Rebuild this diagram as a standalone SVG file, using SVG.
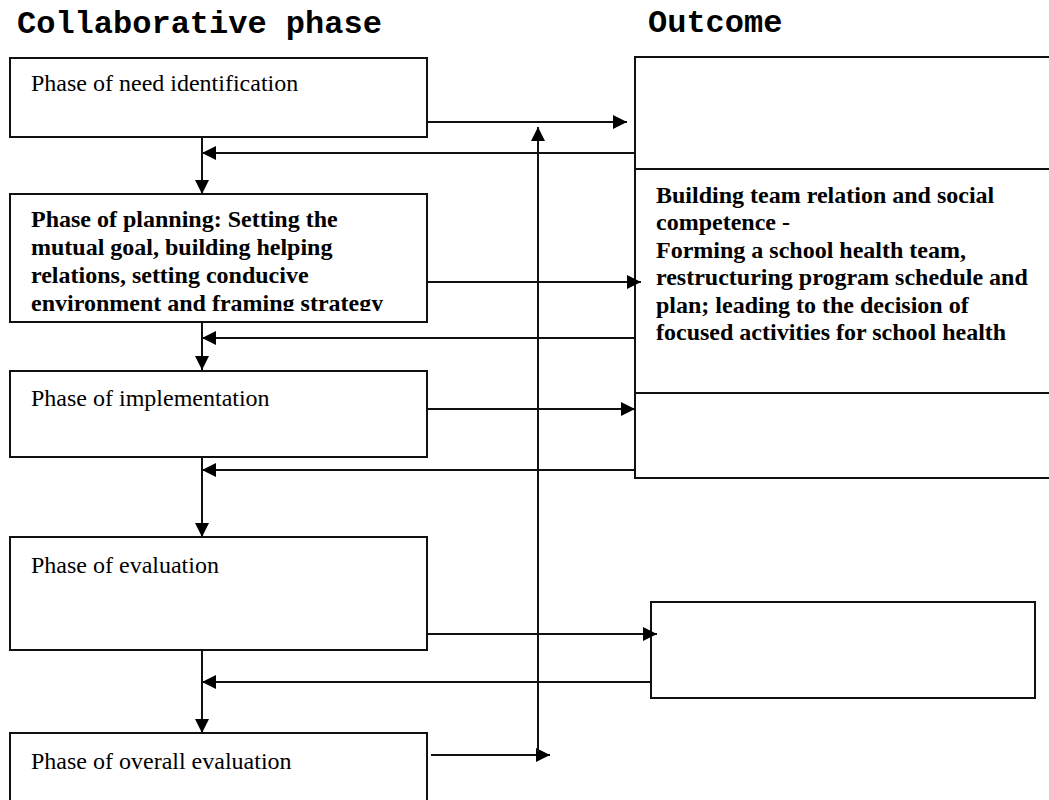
<svg xmlns="http://www.w3.org/2000/svg" width="1049" height="800" viewBox="0 0 1049 800">
  <style>
    .box { fill: #fff; stroke: #111; stroke-width: 2; }
    .title { font-family: "Liberation Mono", "Courier New", monospace; font-weight: bold; font-size: 32px; fill: #000; }
    .t { font-family: "Liberation Serif", "Times New Roman", serif; font-size: 24px; fill: #000; }
    .tb { font-family: "Liberation Serif", "Times New Roman", serif; font-size: 24px; font-weight: bold; fill: #000; }
    .c { stroke: #111; stroke-width: 2; fill: none; marker-end: url(#ah); }
  </style>
  <defs>
    <marker id="ah" markerUnits="userSpaceOnUse" markerWidth="16" markerHeight="16" viewBox="0 0 16 16" refX="15" refY="8" orient="auto">
      <path d="M1,1 L15,8 L1,15 Z" fill="#000"/>
    </marker>
    <clipPath id="clip2">
      <rect x="10" y="194" width="417" height="117"/>
    </clipPath>
  </defs>
  <rect width="1049" height="800" fill="#fff"/>

  <text class="title" x="17" y="33">Collaborative phase</text>
  <text class="title" x="648" y="32">Outcome</text>

  <g id="node-need">
    <rect class="box" x="10" y="58" width="417" height="79"/>
    <text class="t" x="31" y="91">Phase of need identification</text>
  </g>
  <g id="node-planning">
    <rect class="box" x="10" y="194" width="417" height="128"/>
    <g clip-path="url(#clip2)">
      <text class="tb" x="31" y="227">Phase of planning: Setting the</text>
      <text class="tb" x="31" y="255">mutual goal, building helping</text>
      <text class="tb" x="31" y="283">relations, setting conducive</text>
      <text class="tb" x="31" y="311">environment and framing strategy</text>
    </g>
  </g>
  <g id="node-implementation">
    <rect class="box" x="10" y="371" width="417" height="86"/>
    <text class="t" x="31" y="406">Phase of implementation</text>
  </g>
  <g id="node-evaluation">
    <rect class="box" x="10" y="537" width="417" height="113"/>
    <text class="t" x="31" y="573">Phase of evaluation</text>
  </g>
  <g id="node-overall">
    <rect class="box" x="10" y="733" width="417" height="90"/>
    <text class="t" x="31" y="769">Phase of overall evaluation</text>
  </g>

  <g id="node-outcome-top">
    <rect class="box" x="635" y="57" width="430" height="112"/>
  </g>
  <g id="node-outcome-main">
    <rect class="box" x="635" y="169" width="430" height="224"/>
    <text class="tb" x="656" y="203">Building team relation and social</text>
    <text class="tb" x="656" y="230">competence -</text>
    <text class="tb" x="656" y="258">Forming a school health team,</text>
    <text class="tb" x="656" y="285">restructuring program schedule and</text>
    <text class="tb" x="656" y="313">plan; leading to the decision of</text>
    <text class="tb" x="656" y="340">focused activities for school health</text>
  </g>
  <g id="node-outcome-impl">
    <rect class="box" x="635" y="393" width="430" height="85"/>
  </g>
  <g id="node-outcome-eval">
    <rect class="box" x="651" y="602" width="384" height="96"/>
  </g>

  <g id="connectors">
    <line class="c" x1="427" y1="122" x2="627" y2="122"/>
    <line class="c" x1="635" y1="153" x2="202" y2="153"/>
    <line class="c" x1="202" y1="137" x2="202" y2="194"/>
    <line class="c" x1="427" y1="282" x2="641" y2="282"/>
    <line class="c" x1="635" y1="338" x2="202" y2="338"/>
    <line class="c" x1="202" y1="322" x2="202" y2="370"/>
    <line class="c" x1="427" y1="409" x2="635" y2="409"/>
    <line class="c" x1="635" y1="470" x2="202" y2="470"/>
    <line class="c" x1="202" y1="457" x2="202" y2="537"/>
    <line class="c" x1="427" y1="634" x2="657" y2="634"/>
    <line class="c" x1="651" y1="682" x2="202" y2="682"/>
    <line class="c" x1="202" y1="650" x2="202" y2="733"/>
    <line class="c" x1="431" y1="755" x2="550" y2="755"/>
    <line class="c" x1="538" y1="752" x2="538" y2="127"/>
  </g>
</svg>
